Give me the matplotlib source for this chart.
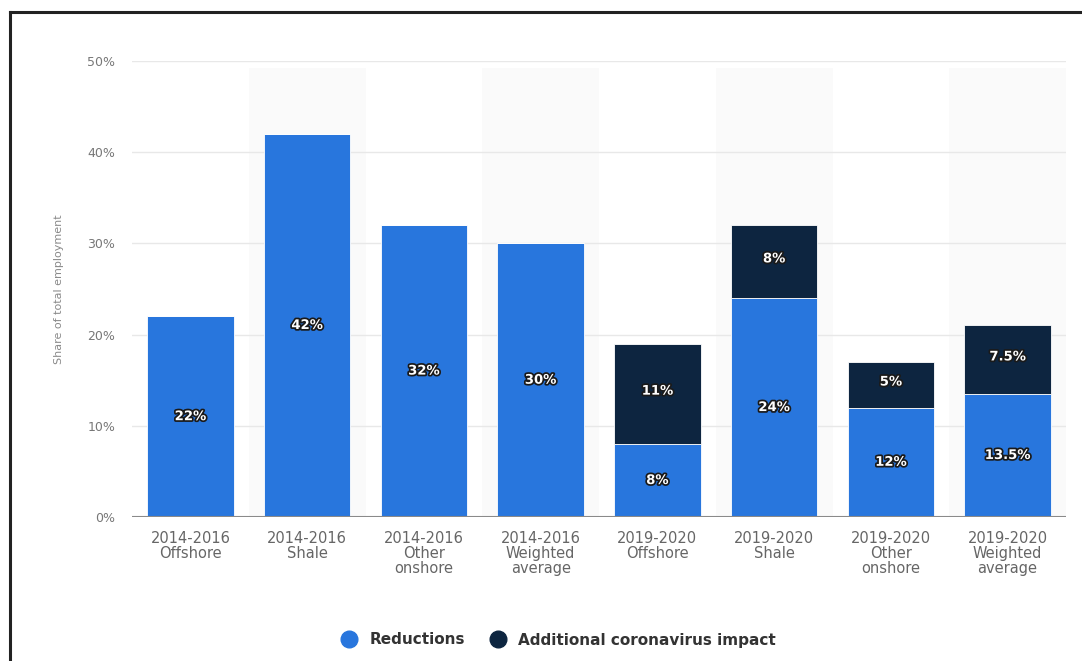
import matplotlib
matplotlib.use("Agg")
import matplotlib.pyplot as plt
import matplotlib.patheffects as pe
from matplotlib.lines import Line2D

categories = ["2014-2016\nOffshore", "2014-2016\nShale", "2014-2016\nOther\nonshore",
              "2014-2016\nWeighted\naverage", "2019-2020\nOffshore", "2019-2020\nShale",
              "2019-2020\nOther\nonshore", "2019-2020\nWeighted\naverage"]
reductions = [22, 42, 32, 30, 8, 24, 12, 13.5]
additional = [0, 0, 0, 0, 11, 8, 5, 7.5]
reduction_labels = ["22%", "42%", "32%", "30%", "8%", "24%", "12%", "13.5%"]
additional_labels = ["", "", "", "", "11%", "8%", "5%", "7.5%"]
yticks = [0, 10, 20, 30, 40, 50]
ytick_labels = ["0%", "10%", "20%", "30%", "40%", "50%"]

blue = "#2876dd"
navy = "#0d2540"

fig = plt.figure(figsize=(10.82, 6.61), dpi=100)
ax = fig.add_axes([132/1082, 144/661, (1066-132)/1082, (517-61)/661])

x = list(range(len(categories)))
for i in x:
    if i % 2 == 1:
        ax.axvspan(i - 0.5, i + 0.5, ymin=0, ymax=0.985, color="#fafafa", zorder=0, lw=0)

for t in yticks[1:]:
    ax.axhline(t, color="#e8e8e8", lw=1, zorder=1)
ax.axhline(0, color="#8a8a8a", lw=1.5, zorder=4)

w = 0.74
ax.bar(x, reductions, width=w, color=blue, zorder=3, edgecolor="white", linewidth=0.6)
ax.bar(x, additional, width=w, bottom=reductions, color=navy, zorder=3, edgecolor="white", linewidth=0.6)

stroke = [pe.withStroke(linewidth=2.5, foreground="#1a1a1a")]
for i in x:
    ax.text(i, reductions[i] / 2, reduction_labels[i], ha="center", va="center",
            color="white", fontsize=9.5, fontweight="bold", path_effects=stroke, zorder=5)
    if additional[i] > 0:
        ax.text(i, reductions[i] + additional[i] / 2 + 0.3, additional_labels[i], ha="center", va="center",
                color="white", fontsize=9.5, fontweight="bold", path_effects=stroke, zorder=5)

ax.set_xlim(-0.5, 7.5)
ax.set_ylim(0, 50)
ax.set_yticks(yticks)
ax.set_yticklabels(ytick_labels, color="#777777", fontsize=9)
ax.set_xticks(x)
ax.set_xticklabels(categories, color="#666666", fontsize=10.5, linespacing=1.0)
ax.tick_params(axis="both", length=0, pad=12)
ax.tick_params(axis="x", pad=10)
for s in ax.spines.values():
    s.set_visible(False)
ax.set_ylabel("Share of total employment", color="#8a8a8a", fontsize=8)
ax.yaxis.set_label_coords(-0.073, 0.5)

handles = [Line2D([], [], marker="o", ls="", markersize=12, color=blue),
           Line2D([], [], marker="o", ls="", markersize=12, color=navy)]
fig.legend(handles, ["Reductions", "Additional coronavirus impact"], loc="center",
           bbox_to_anchor=(555/1082, 1 - 640/661), ncol=2, frameon=False,
           prop={"weight": "bold", "size": 11}, labelcolor="#333333",
           handletextpad=0.3, columnspacing=1.2)

fig.add_artist(Line2D([10/1082, 10/1082], [0, 1 - 12/661], color="#222222", lw=2.2))
fig.add_artist(Line2D([10/1082, 1], [1 - 12/661, 1 - 12/661], color="#222222", lw=2.2))

fig.savefig("out.png", dpi=100)
